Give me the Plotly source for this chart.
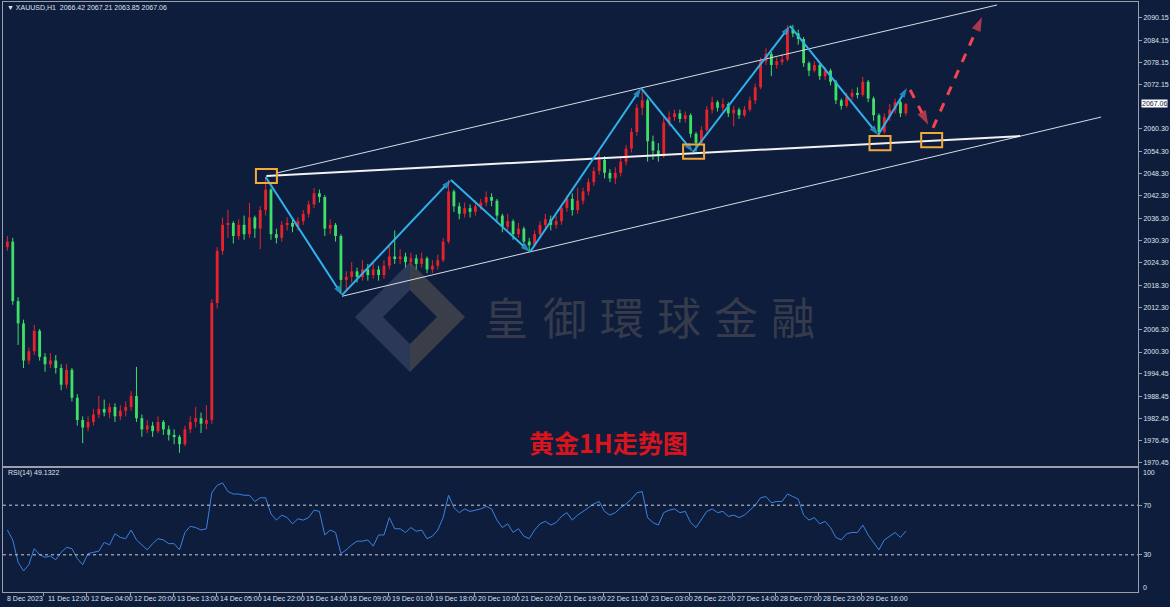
import plotly.graph_objects as go

# ---------------- data (2-hour candles) ----------------
opens = [2028.5, 2030.0, 2014.0, 2008.0, 1998.0, 2000.5, 2006.0, 1999.0, 1997.0, 1998.0,
         1996.0, 1991.5, 1995.5, 1988.0, 1982.0, 1980.0, 1981.5, 1983.5, 1985.0, 1984.0,
         1985.5, 1983.0, 1984.5, 1985.5, 1988.5, 1982.5, 1979.5, 1980.5, 1979.0, 1981.5,
         1979.5, 1978.0, 1977.5, 1975.5, 1979.5, 1981.5, 1982.5, 1981.0, 1982.0, 2013.5,
         2027.5, 2034.5, 2035.0, 2031.5, 2034.5, 2032.0, 2036.5, 2033.5, 2038.5, 2044.0,
         2032.0, 2031.0, 2034.5, 2035.0, 2034.0, 2035.5, 2037.5, 2040.0, 2043.0, 2042.0,
         2033.5, 2034.5, 2031.5, 2019.7, 2020.5, 2022.0, 2020.5, 2022.5, 2021.0, 2022.5,
         2021.0, 2023.5, 2026.0, 2025.5, 2026.0, 2024.5, 2025.5, 2024.0, 2025.5, 2022.5,
         2023.5, 2025.0, 2030.0, 2043.5, 2039.5, 2037.5, 2039.0, 2038.0, 2039.5, 2040.5,
         2042.0, 2041.0, 2037.0, 2034.0, 2035.5, 2032.0, 2033.5, 2030.0, 2029.0, 2032.0,
         2034.5, 2036.0, 2034.5, 2035.5, 2039.0, 2041.5, 2038.5, 2041.0, 2043.5, 2046.0,
         2049.0, 2052.0, 2048.5, 2047.0, 2048.5, 2051.5, 2055.0, 2059.5, 2066.0, 2068.0,
         2057.0, 2054.5, 2053.0, 2062.0, 2063.5, 2064.5, 2063.0, 2064.0, 2059.0, 2056.5,
         2060.0, 2065.5, 2067.5, 2066.0, 2067.0, 2064.5, 2065.5, 2064.0, 2065.5, 2068.0,
         2071.5, 2078.5, 2080.5, 2077.5, 2078.5, 2079.0, 2087.0, 2086.0, 2084.5, 2078.0,
         2076.0, 2077.5, 2074.5, 2076.0, 2073.0, 2068.0, 2066.5, 2069.0, 2070.0, 2069.5,
         2073.0, 2068.5, 2064.0, 2059.5, 2063.5, 2065.5, 2067.5, 2064.5]
closes = [2030.0, 2014.0, 2008.0, 1998.0, 2000.5, 2006.0, 1999.0, 1997.0, 1998.0, 1996.0,
          1991.5, 1995.5, 1988.0, 1982.0, 1980.0, 1981.5, 1983.5, 1985.0, 1984.0, 1985.5,
          1983.0, 1984.5, 1985.5, 1988.5, 1982.5, 1979.5, 1980.5, 1979.0, 1981.5, 1979.5,
          1978.0, 1977.5, 1975.5, 1979.5, 1981.5, 1982.5, 1981.0, 1982.0, 2013.5, 2027.5,
          2034.5, 2035.0, 2031.5, 2034.5, 2032.0, 2036.5, 2033.5, 2038.5, 2044.0, 2032.0,
          2031.0, 2034.5, 2035.0, 2034.0, 2035.5, 2037.5, 2040.0, 2043.0, 2042.0, 2033.5,
          2034.5, 2031.5, 2019.7, 2020.5, 2022.0, 2020.5, 2022.5, 2021.0, 2022.5, 2021.0,
          2023.5, 2026.0, 2025.5, 2026.0, 2024.5, 2025.5, 2024.0, 2025.5, 2022.5, 2023.5,
          2025.0, 2030.0, 2043.5, 2039.5, 2037.5, 2039.0, 2038.0, 2039.5, 2040.5, 2042.0,
          2041.0, 2037.0, 2034.0, 2035.5, 2032.0, 2033.5, 2030.0, 2029.0, 2032.0, 2034.5,
          2036.0, 2034.5, 2035.5, 2039.0, 2041.5, 2038.5, 2041.0, 2043.5, 2046.0, 2049.0,
          2052.0, 2048.5, 2047.0, 2048.5, 2051.5, 2055.0, 2059.5, 2066.0, 2068.0, 2057.0,
          2054.5, 2053.0, 2062.0, 2063.5, 2064.5, 2063.0, 2064.0, 2059.0, 2056.5, 2060.0,
          2065.5, 2067.5, 2066.0, 2067.0, 2064.5, 2065.5, 2064.0, 2065.5, 2068.0, 2071.5,
          2078.5, 2080.5, 2077.5, 2078.5, 2079.0, 2087.0, 2086.0, 2084.5, 2078.0, 2076.0,
          2077.5, 2074.5, 2076.0, 2073.0, 2068.0, 2066.5, 2069.0, 2070.0, 2069.5, 2073.0,
          2068.5, 2064.0, 2059.5, 2063.5, 2065.5, 2067.5, 2064.5, 2067.06]
highs = [2031.5, 2031.0, 2015.0, 2009.0, 2001.5, 2007.6, 2006.5, 2000.0, 2000.0, 1999.5,
         1997.0, 1997.0, 1996.0, 1989.0, 1983.0, 1983.0, 1985.0, 1988.5, 1987.5, 1986.5,
         1986.5, 1986.0, 1987.0, 1989.8, 1996.3, 1983.5, 1982.0, 1981.5, 1983.0, 1982.0,
         1980.5, 1979.5, 1978.0, 1980.5, 1983.0, 1985.5, 1984.0, 1986.0, 2014.5, 2028.5,
         2036.5, 2038.5, 2035.5, 2036.0, 2037.0, 2040.4, 2037.0, 2039.5, 2047.4, 2044.5,
         2033.5, 2035.5, 2036.5, 2036.0, 2036.5, 2038.5, 2041.0, 2044.4, 2044.0, 2042.5,
         2036.0, 2035.0, 2032.0, 2022.0, 2024.5, 2023.0, 2025.0, 2024.0, 2024.5, 2023.5,
         2025.0, 2029.0, 2033.0, 2028.0, 2027.0, 2027.0, 2026.5, 2027.0, 2026.0, 2025.0,
         2026.5, 2031.0, 2046.6, 2044.0, 2040.5, 2040.5, 2040.0, 2041.0, 2041.5, 2043.5,
         2043.0, 2041.5, 2037.5, 2037.5, 2036.0, 2035.0, 2034.0, 2031.0, 2033.0, 2035.5,
         2037.5, 2037.0, 2037.0, 2040.0, 2042.5, 2043.0, 2044.5, 2044.5, 2047.0, 2050.0,
         2054.6, 2053.0, 2049.5, 2050.0, 2052.5, 2056.0, 2060.5, 2067.0, 2070.8, 2068.5,
         2058.5, 2056.5, 2063.5, 2065.0, 2065.5, 2065.5, 2065.0, 2064.5, 2059.5, 2061.0,
         2066.5, 2069.0, 2068.0, 2068.5, 2067.5, 2066.5, 2066.0, 2066.5, 2069.0, 2072.5,
         2079.5, 2082.0, 2081.0, 2079.5, 2080.5, 2088.2, 2088.3, 2087.0, 2085.0, 2078.5,
         2078.5, 2078.0, 2077.0, 2076.5, 2073.5, 2068.5, 2070.0, 2071.0, 2071.5, 2074.3,
         2073.5, 2069.0, 2064.5, 2064.5, 2067.0, 2068.5, 2068.0, 2067.21]
lows = [2027.5, 2013.0, 2002.2, 1996.0, 1997.0, 1999.5, 1998.0, 1995.0, 1996.0, 1994.5,
        1990.0, 1990.5, 1987.0, 1980.5, 1975.8, 1979.0, 1980.5, 1982.5, 1983.0, 1982.5,
        1981.5, 1982.0, 1983.0, 1984.5, 1981.5, 1977.5, 1978.5, 1977.5, 1978.5, 1978.0,
        1976.5, 1975.5, 1973.2, 1975.0, 1978.5, 1980.0, 1978.5, 1979.5, 1981.0, 2012.0,
        2026.5, 2031.0, 2029.5, 2030.5, 2030.5, 2031.0, 2031.0, 2028.0, 2037.0, 2030.5,
        2029.5, 2030.0, 2033.0, 2032.5, 2033.0, 2034.5, 2036.5, 2039.0, 2040.5, 2031.5,
        2032.0, 2030.0, 2016.0, 2016.5, 2019.0, 2019.0, 2019.5, 2019.5, 2020.0, 2019.5,
        2020.0, 2022.5, 2024.0, 2024.0, 2023.0, 2023.5, 2022.5, 2023.0, 2021.5, 2021.5,
        2022.5, 2024.5, 2029.5, 2038.0, 2036.0, 2036.5, 2036.5, 2037.0, 2038.5, 2039.5,
        2039.5, 2035.5, 2032.5, 2033.0, 2030.5, 2031.0, 2029.0, 2027.2, 2028.5, 2031.0,
        2033.5, 2033.0, 2033.5, 2034.5, 2038.0, 2037.0, 2037.5, 2040.0, 2042.5, 2045.0,
        2048.0, 2047.0, 2046.0, 2045.5, 2047.5, 2050.5, 2054.0, 2058.5, 2064.0, 2051.5,
        2052.0, 2051.5, 2052.5, 2061.0, 2062.5, 2062.0, 2062.0, 2058.0, 2054.2, 2056.0,
        2059.5, 2064.5, 2065.0, 2065.0, 2063.5, 2061.0, 2063.0, 2063.5, 2065.0, 2067.0,
        2071.0, 2077.5, 2074.5, 2076.5, 2077.5, 2078.5, 2085.0, 2083.0, 2077.0, 2074.5,
        2075.5, 2073.5, 2073.5, 2072.0, 2067.0, 2065.5, 2066.0, 2068.0, 2068.5, 2069.0,
        2067.5, 2062.5, 2058.2, 2059.0, 2062.5, 2064.5, 2063.5, 2063.85]
rsi_values = [50, 42, 24, 17, 22, 35, 30, 28, 29, 26,
              32, 36, 35, 27, 22, 31, 32, 33, 40, 38,
              47, 44, 43, 50, 42, 38, 34, 39, 43, 42,
              39, 39, 34, 48, 53, 52, 50, 51, 80, 86,
              88, 81, 79, 79, 78, 78, 73, 76, 76, 63,
              58, 62, 60, 55, 59, 58, 60, 66, 65, 46,
              50, 48, 31, 34, 38, 41, 41, 42, 37, 46,
              46, 60, 51, 51, 48, 52, 49, 50, 43, 45,
              50, 60, 78, 68, 64, 67, 65, 66, 67, 69,
              67, 58, 52, 55, 48, 51, 45, 43, 50, 55,
              57, 54, 56, 61, 64, 58, 62, 65, 68, 71,
              73, 65, 62, 64, 68, 71, 75, 80, 81, 60,
              56, 54, 64, 66, 67, 64, 65, 56, 52, 58,
              65, 67, 64, 65, 61, 62, 60, 62, 66, 70,
              76, 77, 72, 73, 73, 79, 77, 75, 62, 58,
              60, 55, 57, 52, 44, 42, 47, 48, 48, 54,
              46, 40, 34, 42, 45, 48, 44, 49.13]

time_labels = ["8 Dec 2023", "11 Dec 12:00", "12 Dec 04:00", "12 Dec 20:00", "13 Dec 13:00",
               "14 Dec 05:00", "14 Dec 22:00", "15 Dec 14:00", "18 Dec 09:00", "19 Dec 01:00",
               "19 Dec 18:00", "20 Dec 10:00", "21 Dec 02:00", "21 Dec 19:00", "22 Dec 11:00",
               "23 Dec 03:00", "26 Dec 22:00", "27 Dec 14:00", "28 Dec 07:00", "28 Dec 23:00",
               "29 Dec 16:00"]
time_label_bars = [-1.0, 14.1, 30.1, 46.1, 62.1, 78.1, 94.1, 110.1, 126.1, 142.1, 158.1,
                   174.1, 190.1, 206.1, 222.1, 238.1, 254.1, 270.1, 286.1, 302.1, 318.1]
price_ticks = [2090.15, 2084.15, 2078.15, 2072.15, 2060.30, 2054.30, 2048.30, 2042.30,
               2036.30, 2030.30, 2024.30, 2018.30, 2012.30, 2006.30, 2000.30, 1994.45,
               1988.45, 1982.45, 1976.45, 1970.45]
last_price = 2067.06

# analysis drawings (bar index, price)
zig_x = [96.5, 124.9, 165.4, 194.8, 236.1, 255.4, 291.4, 324.2, 334.9]
zig_y = [2047.4, 2015.6, 2046.6, 2027.2, 2071.3, 2054.1, 2088.0, 2058.7, 2071.3]
proj1_x = [336.1, 342.8]
proj1_y = [2070.8, 2061.4]
proj2_x = [344.6, 362.8]
proj2_y = [2060.6, 2090.4]
upper_x = [100.7, 368.4]
upper_y = [2048.46, 2093.65]
mid_x = [96.8, 377.0]
mid_y = [2047.65, 2058.4]
lower_x = [124.9, 407.1]
lower_y = [2015.3, 2063.5]
box_x = [96.8, 255.6, 324.9, 344.1]
box_y = [2047.65, 2054.2, 2056.5, 2057.3]

bar_pos = [2 * j + 0.5 for j in range(len(closes))]

# ---------------- styling ----------------
BG = "#0f1d3d"
FRAME = "#9aa0aa"
TXT = "#dfe3ea"
FONT = "Liberation Sans"
UP_COL = "#e8232b"
DN_COL = "#3ee065"
XMIN, XMAX = -1.12, 420.8

W, H = 1170, 607
ML, MR, MT, MB = 3, 32, 2, 15
PW, PH = W - ML - MR, H - MT - MB


def xp(px):
    return (px - ML) / PW


def yp(py):
    return (H - MB - py) / PH


fig = go.Figure()

# candles: bodies as bars, wicks as segments (one pair of traces per direction)
for is_up, col in ((True, UP_COL), (False, DN_COL)):
    idx = [k for k in range(len(closes)) if (closes[k] >= opens[k]) == is_up]
    fig.add_trace(go.Bar(
        x=[bar_pos[k] for k in idx],
        base=[min(opens[k], closes[k]) for k in idx],
        y=[max(abs(closes[k] - opens[k]), 0.3) for k in idx],
        width=1.05, marker=dict(color=col, line=dict(width=0)),
        xaxis="x", yaxis="y", hoverinfo="skip", showlegend=False))
    wx, wy = [], []
    for k in idx:
        wx += [bar_pos[k], bar_pos[k], None]
        wy += [lows[k], highs[k], None]
    fig.add_trace(go.Scatter(x=wx, y=wy, mode="lines", line=dict(color=col, width=1),
                             xaxis="x", yaxis="y", hoverinfo="skip", showlegend=False))

# channel lines
fig.add_trace(go.Scatter(x=upper_x, y=upper_y, mode="lines", line=dict(color="#d8dce4", width=1),
                         xaxis="x", yaxis="y", hoverinfo="skip", showlegend=False))
fig.add_trace(go.Scatter(x=lower_x, y=lower_y, mode="lines", line=dict(color="#d8dce4", width=1),
                         xaxis="x", yaxis="y", hoverinfo="skip", showlegend=False))
fig.add_trace(go.Scatter(x=mid_x, y=mid_y, mode="lines", line=dict(color="#f2f2f2", width=2),
                         xaxis="x", yaxis="y", hoverinfo="skip", showlegend=False))

# zigzag with arrow heads
fig.add_trace(go.Scatter(
    x=zig_x, y=zig_y, mode="lines+markers",
    line=dict(color="#2db3ee", width=2),
    marker=dict(symbol="arrow", angleref="previous", color="#2db3ee",
                size=[0] + [10] * (len(zig_x) - 1), line=dict(width=0)),
    xaxis="x", yaxis="y", hoverinfo="skip", showlegend=False))

# projected path (red dashed arrows)
for px_, py_ in ((proj1_x, proj1_y), (proj2_x, proj2_y)):
    fig.add_trace(go.Scatter(
        x=px_, y=py_, mode="lines+markers",
        line=dict(color="#f0454f", width=3, dash="dash"),
        marker=dict(symbol="arrow", angleref="previous", color="#f0454f",
                    size=[0, 15], line=dict(width=0)),
        xaxis="x", yaxis="y", hoverinfo="skip", showlegend=False))

# RSI
fig.add_trace(go.Scatter(x=bar_pos, y=rsi_values, mode="lines",
                         line=dict(color="#3a82e0", width=1),
                         xaxis="x2", yaxis="y2", hoverinfo="skip", showlegend=False))

shapes = []
# watermark logo (drawn below everything)
logo_left = [(355, 317), (410, 262), (410, 290), (383, 317), (410, 344), (410, 372)]
logo_right = [(410, 262), (465, 317), (410, 372), (410, 344), (437, 317), (410, 290)]
for pts, col in ((logo_left, "#2b3858"), (logo_right, "#3a3e48")):
    path = "M " + " L ".join(f"{xp(a):.5f},{yp(b):.5f}" for a, b in pts) + " Z"
    shapes.append(dict(type="path", path=path, xref="paper", yref="paper",
                       fillcolor=col, line=dict(width=0), layer="below"))

# orange boxes
for bx, by in zip(box_x, box_y):
    shapes.append(dict(type="rect", xref="x", yref="y", x0=bx - 3.9, x1=bx + 3.9,
                       y0=by - 1.9, y1=by + 1.9, line=dict(color="#f2a93b", width=2),
                       fillcolor="rgba(0,0,0,0)"))
# RSI levels
for lvl in (30, 70):
    shapes.append(dict(type="line", xref="paper", yref="y2", x0=0, x1=1, y0=lvl, y1=lvl,
                       line=dict(color="#c8ccd4", width=1, dash="dot")))

annotations = []
annotations.append(dict(xref="paper", yref="paper", x=xp(5), y=yp(8), xanchor="left", yanchor="middle",
                        text="\u25bc XAUUSD,H1  2066.42 2067.21 2063.85 2067.06", showarrow=False,
                        font=dict(family=FONT, size=7, color=TXT)))
annotations.append(dict(xref="paper", yref="paper", x=xp(6), y=yp(473), xanchor="left", yanchor="middle",
                        text="RSI(14) 49.1322", showarrow=False,
                        font=dict(family=FONT, size=7, color=TXT)))
# current price tag
annotations.append(dict(xref="paper", yref="y", x=1, y=last_price, xanchor="left", yanchor="middle",
                        xshift=3, text=f"{last_price:.2f}", showarrow=False, bgcolor="#ffffff",
                        font=dict(family=FONT, size=7, color="#0f1d3d"), borderpad=0))
# RSI 100 / 0 labels
annotations.append(dict(xref="paper", yref="paper", x=1, y=yp(472), xanchor="left", yanchor="middle",
                        xshift=3, text="100", showarrow=False, font=dict(family=FONT, size=7, color=TXT)))
annotations.append(dict(xref="paper", yref="paper", x=1, y=yp(587), xanchor="left", yanchor="middle",
                        xshift=3, text="0", showarrow=False, font=dict(family=FONT, size=7, color=TXT)))
# time labels (left aligned, MT4 style)
for lab, bx in zip(time_labels, time_label_bars):
    annotations.append(dict(xref="x2", yref="paper", x=bx, y=yp(598), xanchor="left", yanchor="middle",
                            xshift=2, text=lab, showarrow=False, font=dict(family=FONT, size=7, color=TXT)))
# title
annotations.append(dict(xref="paper", yref="paper", x=xp(608), y=yp(442), xanchor="center", yanchor="middle",
                        text="<b>黄金1H走势图</b>", showarrow=False,
                        font=dict(family="Noto Sans CJK SC", size=25, color="#d8141c")))
# watermark text
for ch, cx in zip("皇御環球金融", (506, 565, 622, 679, 736, 793)):
    annotations.append(dict(xref="paper", yref="paper", x=xp(cx), y=yp(316), xanchor="center",
                            yanchor="middle", text=ch, showarrow=False,
                            font=dict(family="Noto Sans CJK TC", size=44, color="#353b4a")))

axis_common = dict(showgrid=False, zeroline=False, showline=True, mirror=True,
                   linecolor=FRAME, linewidth=1)

fig.update_layout(
    width=W, height=H, margin=dict(l=ML, r=MR, t=MT, b=MB),
    paper_bgcolor=BG, plot_bgcolor=BG, showlegend=False, barmode="overlay",
    xaxis=dict(domain=[0, 1], range=[XMIN, XMAX], anchor="y", showticklabels=False, ticks="",
               **axis_common),
    yaxis=dict(domain=[yp(466), 1], range=[1969.64, 2094.45], side="right", anchor="x",
               tickvals=price_ticks, ticktext=[f"{v:.2f}" for v in price_ticks],
               ticks="outside", ticklen=3, tickcolor=FRAME,
               tickfont=dict(family=FONT, size=7, color=TXT), **axis_common),
    xaxis2=dict(domain=[0, 1], range=[XMIN, XMAX], anchor="y2", tickvals=time_label_bars[1:],
                ticktext=[""] * (len(time_label_bars) - 1), ticks="outside", ticklen=3,
                tickcolor=FRAME, **axis_common),
    yaxis2=dict(domain=[0, yp(468)], range=[0, 100], side="right", anchor="x2",
                tickvals=[30, 70], ticktext=["30", "70"], ticks="outside", ticklen=3, tickcolor=FRAME,
                tickfont=dict(family=FONT, size=7, color=TXT), **axis_common),
    shapes=shapes, annotations=annotations,
)

fig.write_html("out.html")
